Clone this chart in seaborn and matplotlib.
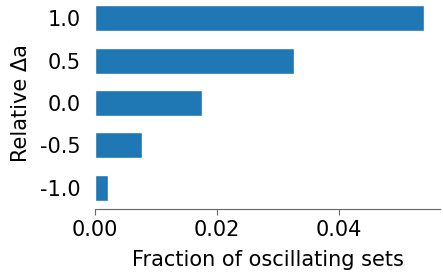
import numpy as np
import pandas as pd
import matplotlib
matplotlib.use("Agg")
import matplotlib.pyplot as plt
import seaborn as sns

# Relative change in a, listed top to bottom as drawn
delta_a = ['1.0', '0.5', '0.0', '-0.5', '-1.0']
# Fraction of parameter sets that oscillate
fraction = [0.0539, 0.0326, 0.0175, 0.0077, 0.0021]

df = pd.DataFrame({'delta_a': delta_a, 'fraction': fraction})

sns.set_style('ticks')
plt.rcParams['font.family'] = ['DejaVu Sans']
plt.rcParams['font.size'] = 15
# black text like the original
for key in ['text.color', 'axes.labelcolor', 'xtick.labelcolor', 'ytick.labelcolor']:
    plt.rcParams[key] = 'black'

fig = plt.figure(figsize=(4.43, 2.75), dpi=100)
ax = fig.add_axes([95 / 443, 66 / 275, 345 / 443, 212 / 275])

sns.barplot(data=df, x='fraction', y='delta_a', order=delta_a, orient='h',
            color='#1f77b4', saturation=1, width=0.61, ax=ax)

sns.despine(ax=ax, left=True)
ax.spines['bottom'].set_color('#666666')
ax.tick_params(axis='y', length=0, pad=10, labelsize=15, labelcolor='black')
ax.tick_params(axis='x', length=4, color='#666666', labelsize=15, pad=4, labelcolor='black')
ax.set_xticks([0.0, 0.02, 0.04])
ax.set_xticklabels(['0.00', '0.02', '0.04'])
ax.set_xlabel('Fraction of oscillating sets', fontsize=15, labelpad=7, color='black')
ax.set_ylabel('Relative Δa', fontsize=15, labelpad=7, color='black')

fig.savefig('out.png', dpi=100)
